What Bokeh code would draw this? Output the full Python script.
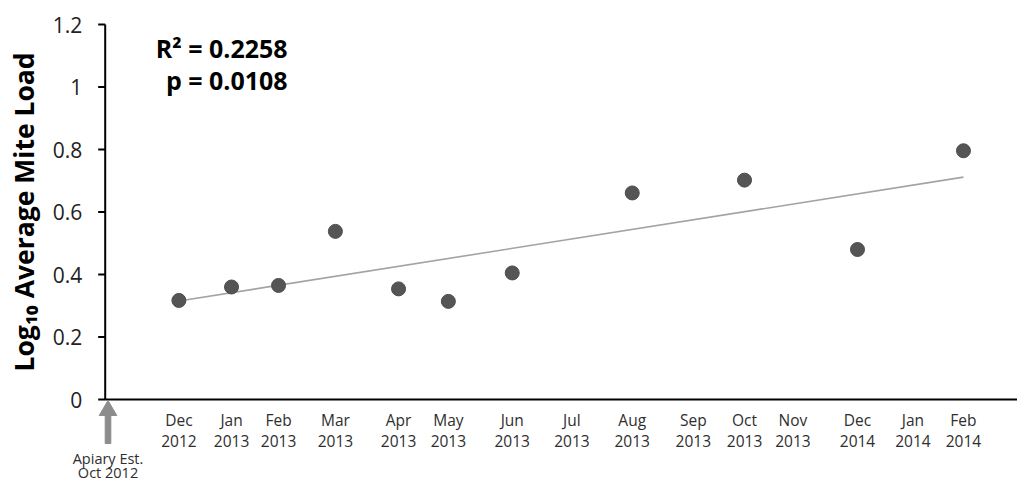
import numpy as np
from bokeh.plotting import figure
from bokeh.models import Range1d
from bokeh.core.properties import value
from bokeh.embed import file_html
from bokeh.resources import INLINE

# Position along the time axis, in weeks after the apiary was set up (Oct 2012)
month_names = ["Dec", "Jan", "Feb", "Mar", "Apr", "May", "Jun", "Jul",
               "Aug", "Sep", "Oct", "Nov", "Dec", "Jan", "Feb"]
month_years = ["2012", "2013", "2013", "2013", "2013", "2013", "2013", "2013",
               "2013", "2013", "2013", "2013", "2014", "2014", "2014"]
month_x = [10.5, 18.0, 24.7, 32.8, 41.8, 48.9, 58.0, 66.5,
           75.1, 83.8, 91.1, 98.0, 107.2, 115.1, 122.3]

# Monthly samples: log10 of the average mite load
sample_x = [10.5, 18.0, 24.7, 32.8, 41.8, 48.9, 58.0, 75.1, 91.1, 107.2, 122.3]
mite_load = [0.317, 0.360, 0.365, 0.538, 0.354, 0.314, 0.405, 0.661, 0.702, 0.480, 0.796]

y_ticks = [0, 0.2, 0.4, 0.6, 0.8, 1.0, 1.2]
y_tick_labels = ["0", "0.2", "0.4", "0.6", "0.8", "1", "1.2"]
y_title = "Log\u2081\u2080 Average Mite Load"
apiary_x = 0.4
apiary_lines = ["Apiary Est.", "Oct 2012"]

stats_lines = ["R\u00b2 = 0.2258", "p = 0.0108"]

# least-squares trend through the samples
slope, intercept = np.polyfit(sample_x, mite_load, 1)
trend_x = [min(sample_x), max(sample_x)]
trend_y = [slope * v + intercept for v in trend_x]

# The plotting frame covers the whole canvas; the axes, their labels and the
# calendar notes under the zero line are drawn as glyphs in data space.
x_lo, x_hi = -14.92, 130.0
y_lo, y_hi = -0.2624, 1.2768
p = figure(width=1017, height=481, x_range=Range1d(x_lo, x_hi), y_range=Range1d(y_lo, y_hi),
           output_backend="svg", toolbar_location=None,
           x_axis_location=None, y_axis_location=None,
           min_border_left=0, min_border_right=0, min_border_top=0, min_border_bottom=0)
p.background_fill_color = "white"
p.border_fill_color = "white"
p.outline_line_color = None
p.grid.visible = False

axis_color = "black"
tick_len = 1.0            # x units (about 7 px)
label_gap = 3.28          # x units from the axis to the right edge of tick labels

# y axis: rule, outward ticks, tick labels and rotated title
p.segment(x0=[0], y0=[min(y_ticks)], x1=[0], y1=[max(y_ticks)],
          line_color=axis_color, line_width=2)
p.segment(x0=[-tick_len] * len(y_ticks), y0=y_ticks, x1=[0] * len(y_ticks), y1=y_ticks,
          line_color=axis_color, line_width=2)
p.text(x=[-label_gap] * len(y_ticks), y=y_ticks, text=y_tick_labels,
       text_font=value("Open Sans"), text_font_size="21px", text_color="#222222",
       text_align="right", text_baseline="middle")
p.text(x=[-11.6], y=[(min(y_ticks) + max(y_ticks)) / 2], text=[y_title], angle=np.pi / 2,
       text_font=value("Open Sans"), text_font_style="bold", text_font_size="26.5px",
       text_color="black", text_align="center", text_baseline="middle")

# x axis rule along zero
p.segment(x0=[0], y0=[0], x1=[x_hi], y1=[0], line_color=axis_color, line_width=2)

# trend line and samples
p.line(trend_x, trend_y, line_color="#a3a3a3", line_width=1.6)
p.scatter(sample_x, mite_load, size=14, fill_color="#555555", line_color="#4d4d4d")

# month / year labels under the zero line
name_y, year_y = -0.064, -0.133
text_style = dict(text_font=value("Open Sans"), text_font_size="15.5px", text_color="#2e2e2e",
                  text_align="center", text_baseline="middle")
p.text(x=month_x, y=[name_y] * len(month_x), text=month_names, **text_style)
p.text(x=month_x, y=[year_y] * len(month_x), text=month_years, **text_style)

# establishment marker: upward arrow to the origin plus a two-line note
arrow_color = "#8c8c8c"
shaft_half, head_half = 0.40, 1.25          # half widths, x units
tip_y, head_base_y, tail_y = -0.003, -0.051, -0.141
arrow_xs = [apiary_x, apiary_x + head_half, apiary_x + shaft_half, apiary_x + shaft_half,
            apiary_x - shaft_half, apiary_x - shaft_half, apiary_x - head_half]
arrow_ys = [tip_y, head_base_y, head_base_y, tail_y, tail_y, head_base_y, head_base_y]
p.patch(arrow_xs, arrow_ys, fill_color=arrow_color, line_color=arrow_color, line_width=1)
p.text(x=[apiary_x] * 2, y=[-0.189, -0.234], text=apiary_lines,
       **dict(text_style, text_font_size="14.5px"))

# fit statistics
p.text(x=[26.0, 26.0], y=[1.126, 1.021], text=stats_lines,
       text_font=value("Open Sans"), text_font_style="bold", text_font_size="25px",
       text_color="black", text_align="right", text_baseline="middle")

open("out.html", "w").write(file_html(p, INLINE))
